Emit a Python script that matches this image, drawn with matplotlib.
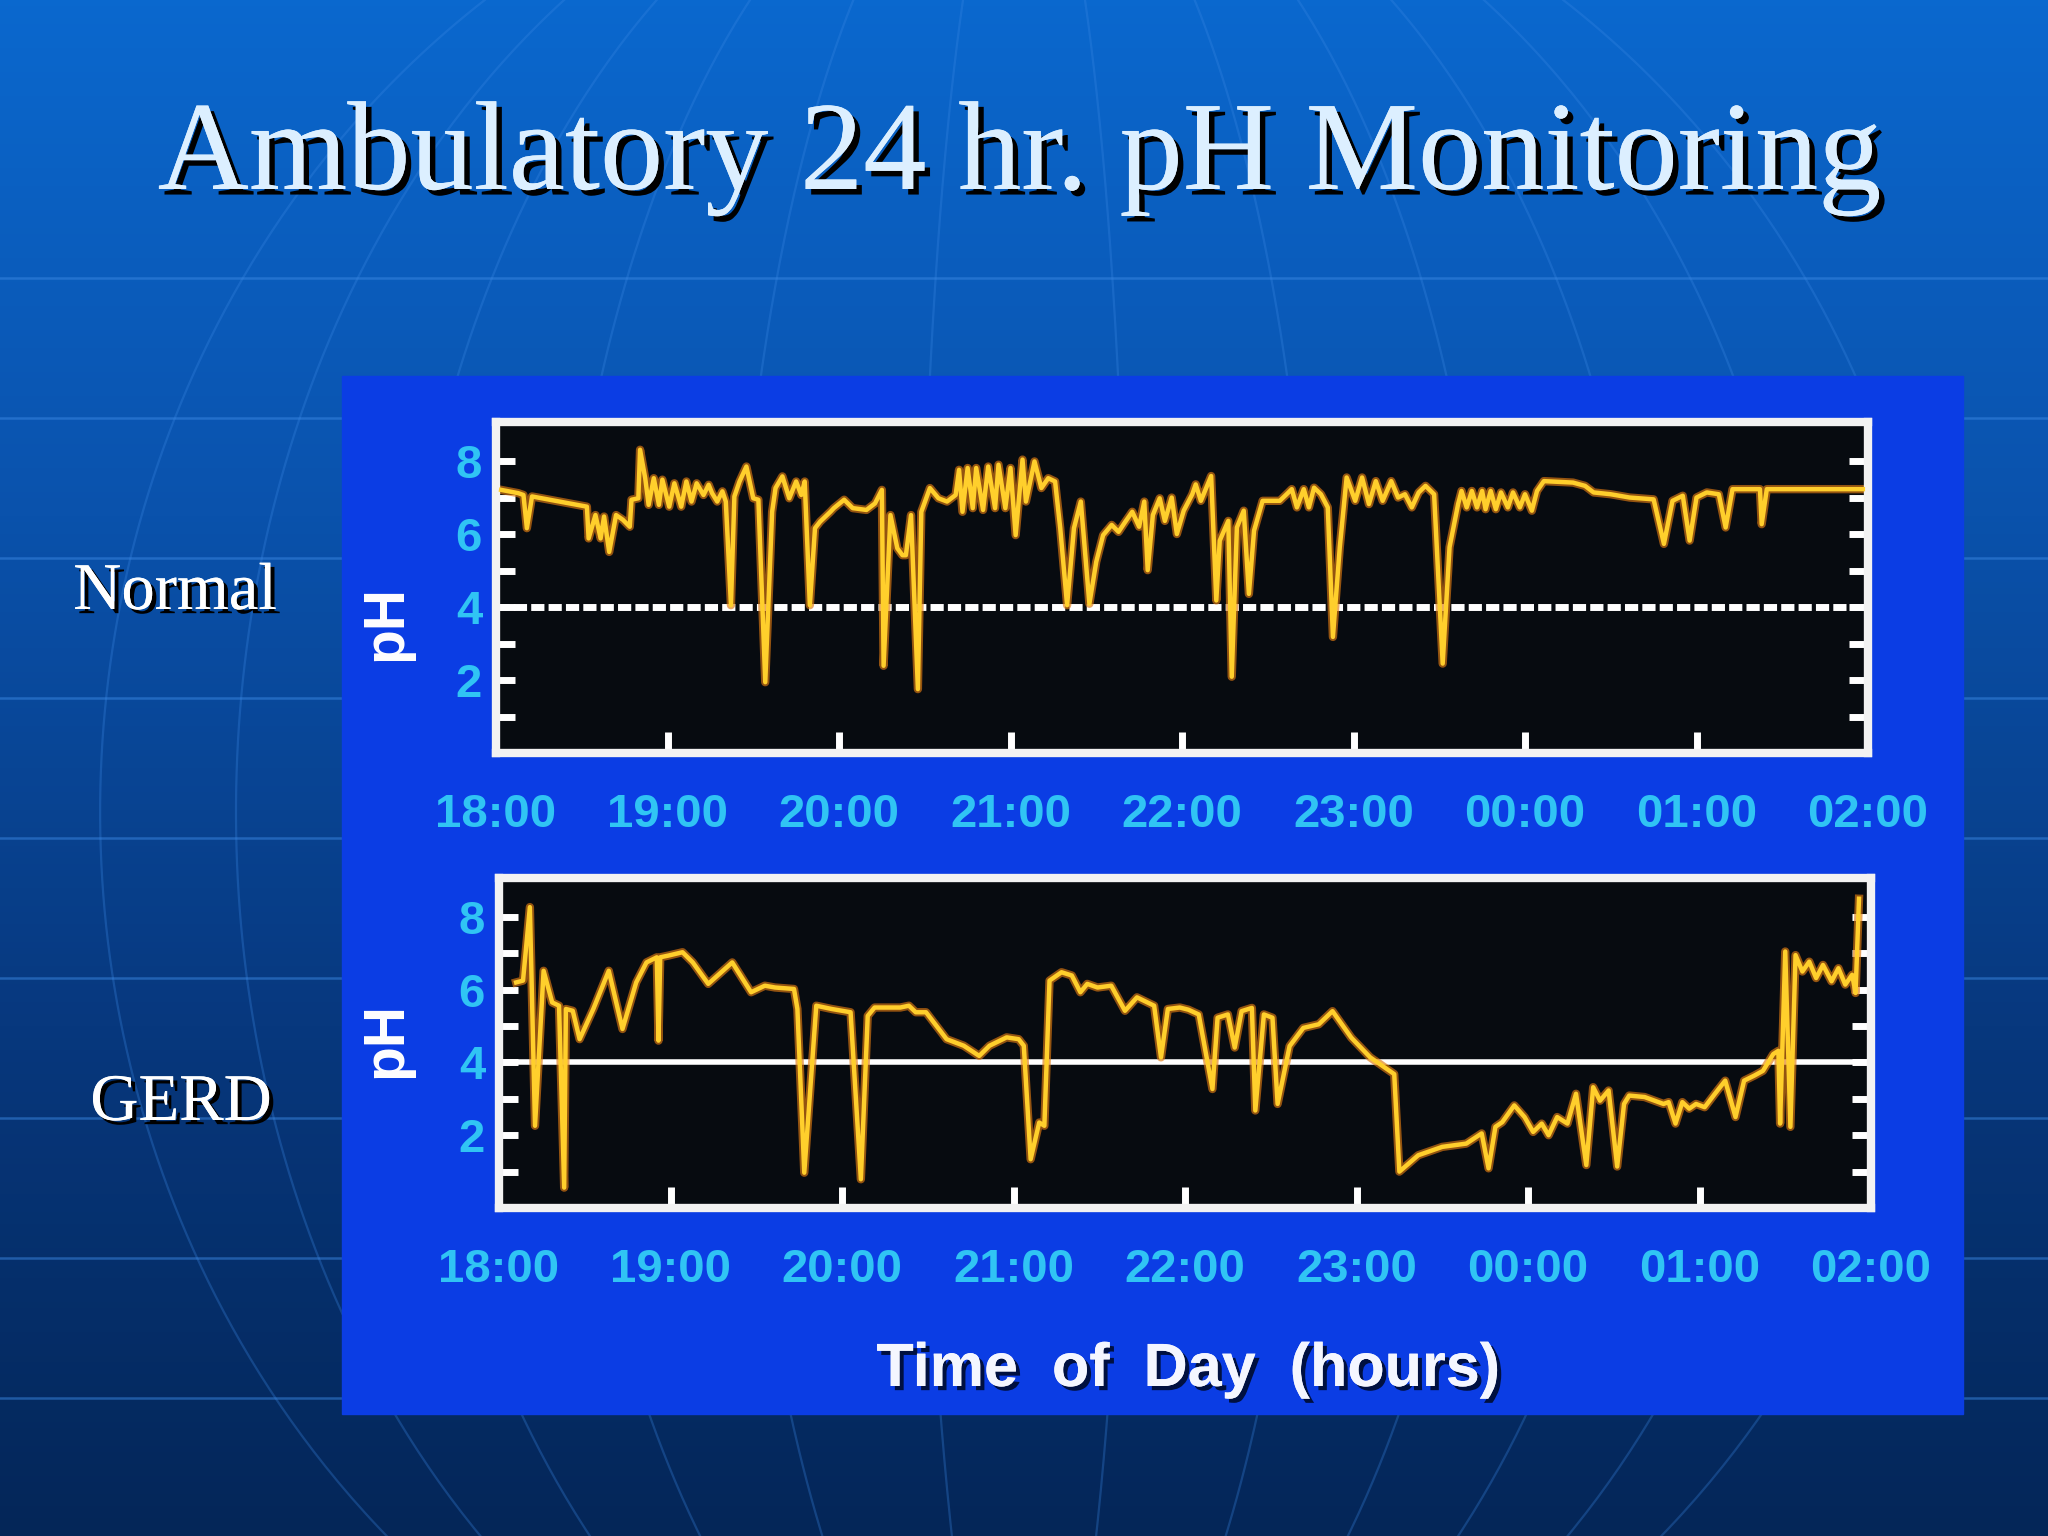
import numpy as np
import matplotlib
matplotlib.use('Agg')
import matplotlib.pyplot as plt
from matplotlib import patheffects as pe
from matplotlib.patches import Rectangle

hour_labels = ['18:00', '19:00', '20:00', '21:00', '22:00', '23:00', '00:00', '01:00', '02:00']
ph_ticks = [2, 4, 6, 8]
ph_minor = [1, 3, 5, 7]
threshold = 4

# hours after 18:00, pH
normal_hours = [0.03, 0.13, 0.16, 0.18, 0.21, 0.53, 0.54, 0.58, 0.61, 0.63, 0.66, 0.70, 0.74, 0.78,
                0.79, 0.83, 0.84, 0.87, 0.89, 0.92, 0.95, 0.97, 1.01, 1.04, 1.08, 1.11, 1.14, 1.17,
                1.21, 1.24, 1.26, 1.29, 1.32, 1.34, 1.37, 1.39, 1.42, 1.46, 1.50, 1.53, 1.57, 1.61,
                1.63, 1.67, 1.71, 1.75, 1.78, 1.80, 1.83, 1.86, 1.89, 1.95, 1.97, 2.03, 2.08, 2.16,
                2.21, 2.25, 2.26, 2.30, 2.34, 2.37, 2.39, 2.42, 2.46, 2.48, 2.53, 2.58, 2.63, 2.68,
                2.70, 2.72, 2.75, 2.78, 2.80, 2.84, 2.87, 2.91, 2.93, 2.97, 3.00, 3.03, 3.07, 3.09,
                3.14, 3.18, 3.22, 3.26, 3.29, 3.33, 3.37, 3.41, 3.46, 3.50, 3.54, 3.59, 3.63, 3.67,
                3.71, 3.75, 3.78, 3.80, 3.83, 3.87, 3.90, 3.94, 3.97, 4.01, 4.06, 4.08, 4.11, 4.17,
                4.20, 4.22, 4.27, 4.29, 4.32, 4.36, 4.39, 4.42, 4.47, 4.57, 4.61, 4.64, 4.67, 4.71,
                4.74, 4.77, 4.81, 4.85, 4.88, 4.92, 4.96, 5.01, 5.05, 5.09, 5.13, 5.17, 5.22, 5.26,
                5.30, 5.34, 5.38, 5.42, 5.47, 5.52, 5.56, 5.61, 5.63, 5.66, 5.69, 5.72, 5.75, 5.77,
                5.80, 5.83, 5.86, 5.90, 5.93, 5.97, 6.00, 6.04, 6.07, 6.11, 6.28, 6.35, 6.40, 6.50,
                6.61, 6.75, 6.81, 6.86, 6.92, 6.96, 7.00, 7.06, 7.13, 7.17, 7.21, 7.37, 7.38, 7.41,
                7.97]
normal_ph = [7.21, 7.12, 7.07, 6.16, 7.03, 6.75, 5.88, 6.52, 5.88, 6.48, 5.51, 6.52, 6.39, 6.20,
             6.94, 6.98, 8.31, 7.53, 6.80, 7.53, 6.80, 7.49, 6.75, 7.39, 6.75, 7.44, 6.89, 7.39,
             7.07, 7.35, 7.12, 6.89, 7.17, 6.89, 4.05, 7.03, 7.44, 7.85, 6.98, 6.94, 1.94, 6.61,
             7.26, 7.58, 6.98, 7.44, 7.07, 7.44, 4.05, 6.16, 6.34, 6.61, 6.71, 6.94, 6.71, 6.66,
             6.84, 7.21, 2.39, 6.52, 5.61, 5.42, 5.42, 6.52, 1.75, 6.61, 7.26, 6.98, 6.89, 7.07,
             7.76, 6.61, 7.81, 6.71, 7.81, 6.66, 7.85, 6.71, 7.90, 6.71, 7.81, 5.97, 8.04, 6.89,
             7.99, 7.26, 7.53, 7.44, 6.16, 4.05, 6.16, 6.89, 4.09, 5.24, 5.97, 6.25, 6.06, 6.34,
             6.61, 6.20, 6.89, 5.01, 6.52, 6.98, 6.36, 7.00, 6.00, 6.64, 7.09, 7.36, 6.91, 7.59,
             4.18, 5.82, 6.36, 2.09, 6.18, 6.64, 4.36, 6.09, 6.91, 6.91, 7.09, 7.23, 6.73, 7.23,
             6.73, 7.27, 7.09, 6.73, 3.18, 5.64, 7.55, 6.91, 7.55, 6.82, 7.45, 6.91, 7.45, 7.00,
             7.09, 6.73, 7.14, 7.32, 7.09, 2.45, 5.64, 6.82, 7.18, 6.73, 7.18, 6.73, 7.18, 6.68,
             7.18, 6.68, 7.14, 6.73, 7.14, 6.73, 7.09, 6.64, 7.18, 7.45, 7.41, 7.32, 7.14, 7.09,
             7.00, 6.95, 5.73, 6.91, 7.05, 5.82, 7.00, 7.14, 7.09, 6.18, 7.23, 7.23, 6.27, 7.23,
             7.23]

gerd_hours = [0.10, 0.14, 0.18, 0.21, 0.26, 0.31, 0.35, 0.38, 0.39, 0.43, 0.47, 0.55, 0.64, 0.72,
              0.80, 0.86, 0.92, 0.93, 0.94, 0.99, 1.07, 1.13, 1.22, 1.36, 1.47, 1.55, 1.61, 1.72,
              1.74, 1.78, 1.85, 1.94, 2.05, 2.11, 2.15, 2.19, 2.34, 2.39, 2.43, 2.49, 2.55, 2.61,
              2.71, 2.80, 2.86, 2.96, 3.03, 3.06, 3.10, 3.15, 3.18, 3.21, 3.28, 3.34, 3.39, 3.43,
              3.49, 3.57, 3.65, 3.72, 3.82, 3.86, 3.90, 3.97, 4.02, 4.08, 4.16, 4.19, 4.25, 4.29,
              4.33, 4.39, 4.41, 4.46, 4.51, 4.54, 4.61, 4.69, 4.78, 4.86, 4.97, 5.08, 5.22, 5.25,
              5.36, 5.50, 5.64, 5.73, 5.77, 5.81, 5.85, 5.92, 5.98, 6.03, 6.08, 6.12, 6.17, 6.23,
              6.28, 6.34, 6.38, 6.42, 6.47, 6.52, 6.56, 6.59, 6.68, 6.79, 6.82, 6.86, 6.90, 6.94,
              6.98, 7.03, 7.09, 7.15, 7.21, 7.26, 7.32, 7.37, 7.43, 7.46, 7.47, 7.50, 7.53, 7.56,
              7.60, 7.64, 7.68, 7.72, 7.77, 7.81, 7.85, 7.89, 7.91, 7.93]
gerd_ph = [6.20, 6.25, 8.27, 2.26, 6.52, 5.65, 5.56, 0.56, 5.47, 5.42, 4.64, 5.47, 6.52, 4.92,
           6.20, 6.75, 6.89, 4.60, 6.89, 6.94, 7.03, 6.75, 6.16, 6.75, 5.93, 6.11, 6.06, 6.02,
           5.47, 0.97, 5.56, 5.47, 5.38, 0.79, 5.28, 5.51, 5.51, 5.56, 5.38, 5.38, 5.01, 4.64,
           4.46, 4.18, 4.46, 4.69, 4.64, 4.46, 1.34, 2.35, 2.26, 6.25, 6.48, 6.39, 5.93, 6.16,
           6.06, 6.11, 5.42, 5.79, 5.56, 4.14, 5.47, 5.51, 5.45, 5.32, 3.27, 5.23, 5.32, 4.41,
           5.41, 5.50, 2.68, 5.32, 5.23, 2.86, 4.45, 4.95, 5.05, 5.41, 4.68, 4.14, 3.68, 1.00,
           1.45, 1.68, 1.77, 2.05, 1.09, 2.23, 2.36, 2.82, 2.50, 2.09, 2.32, 2.00, 2.50, 2.32,
           3.14, 1.18, 3.32, 2.95, 3.23, 1.14, 2.86, 3.09, 3.05, 2.86, 2.91, 2.32, 2.91, 2.73,
           2.86, 2.77, 3.14, 3.50, 2.50, 3.50, 3.64, 3.77, 4.23, 4.32, 2.32, 7.05, 2.23, 6.95,
           6.50, 6.77, 6.32, 6.68, 6.23, 6.59, 6.14, 6.41, 5.91, 8.50]

W, H = 2048, 1536
sans = ['Liberation Sans', 'DejaVu Sans']
serif = ['Liberation Serif', 'DejaVu Serif']
plt.rcParams['font.family'] = sans

fig = plt.figure(figsize=(20.48, 15.36), dpi=100)

# slide background, pixel coordinates
bg = fig.add_axes([0, 0, 1, 1], zorder=-10)
stops = np.array([[10, 104, 206], [10, 82, 172], [7, 56, 126], [4, 38, 88]]) / 255
t = np.linspace(0, 1, 256)
grad = np.stack([np.interp(t, np.linspace(0, 1, 4), stops[:, c]) for c in range(3)], axis=-1)[:, None, :]
bg.imshow(grad, aspect='auto', extent=[0, W, H, 0])
for k in range(9):
    bg.axhline(278 + 140 * k, color='#3b88e4', lw=1.8, alpha=0.5)
cy, R = 812, 1000
yy = np.linspace(0, H, 200)
lat_cos = np.sqrt(1 - ((yy - cy) / R) ** 2)
for lon in [-67.5, -52, -39, -28, -17, -6, 6, 17, 28, 39, 52, 67.5]:
    bg.plot(1024 + R * np.sin(np.radians(lon)) * lat_cos, yy, color='#3b88e4', lw=1.6, alpha=0.3)
bg.add_patch(Rectangle((342, 376), 1963 - 342, 1414 - 376, color='#0b3de4', zorder=5))
bg.set_xlim(0, W)
bg.set_ylim(H, 0)
bg.axis('off')

shadow = [pe.withSimplePatchShadow(offset=(4, -4), shadow_rgbFace='black', alpha=1.0), pe.Normal()]
small_shadow = [pe.withSimplePatchShadow(offset=(3, -3), shadow_rgbFace='black', alpha=1.0), pe.Normal()]
fig.text(1019 / W, 1 - 189 / H, 'Ambulatory 24 hr. pH Monitoring', family=serif, fontsize=91,
         color='#dcefff', ha='center', va='baseline', path_effects=shadow)
fig.text(175 / W, 1 - 609 / H, 'Normal', family=serif, fontsize=48, color='white',
         ha='center', va='baseline', path_effects=small_shadow)
fig.text(181 / W, 1 - 1120 / H, 'GERD', family=serif, fontsize=48, color='white',
         ha='center', va='baseline', path_effects=small_shadow)


def draw_panel(rect, hours, ph, dashed):
    ax = fig.add_axes(rect)
    ax.set_facecolor('#070b10')
    if dashed:
        ax.axhline(threshold, color='white', lw=5, dashes=(1.9, 0.6), zorder=1)
    else:
        ax.axhline(threshold, color='white', lw=4, zorder=1)
    ax.plot(hours, ph, color='#e07a10', lw=6, alpha=0.65, zorder=2)
    ax.plot(hours, ph, color='#ffcf2c', lw=3.2, zorder=3)
    ax.set_xlim(0, 8)
    ax.set_ylim(0, 9.07)
    ax.set_xticks(range(len(hour_labels)))
    ax.set_xticklabels(hour_labels)
    ax.set_yticks(ph_ticks)
    ax.set_yticks(ph_minor, minor=True)
    ax.tick_params(axis='x', which='both', direction='in', color='white', length=15, width=5,
                   top=False, pad=29, labelsize=34, labelcolor='#30c4f4')
    ax.tick_params(axis='y', which='both', direction='in', color='white', length=14, width=5,
                   left=True, right=True, pad=10, labelsize=34, labelcolor='#30c4f4')
    for lab in ax.get_xticklabels() + ax.get_yticklabels():
        lab.set_fontweight('bold')
    for s in ax.spines.values():
        s.set_color('#f2f2f2')
        s.set_linewidth(6)
    return ax


draw_panel([496 / W, 1 - 753 / H, 1372 / W, 331 / H], normal_hours, normal_ph, True)
draw_panel([499 / W, 1 - 1208 / H, 1372 / W, 330 / H], gerd_hours, gerd_ph, False)

for yc in [623, 1040]:
    fig.text(386 / W, 1 - yc / H, 'pH', fontsize=41, fontweight='bold', color='white',
             rotation=90, ha='center', va='center')

fig.text(1188 / W, 1 - 1386 / H, 'Time  of  Day  (hours)', fontsize=44, fontweight='bold',
         color='#f4f6ff', ha='center', va='baseline',
         path_effects=[pe.withSimplePatchShadow(offset=(3, -3), shadow_rgbFace='#001040', alpha=1.0), pe.Normal()])

fig.savefig('out.png', dpi=100)
